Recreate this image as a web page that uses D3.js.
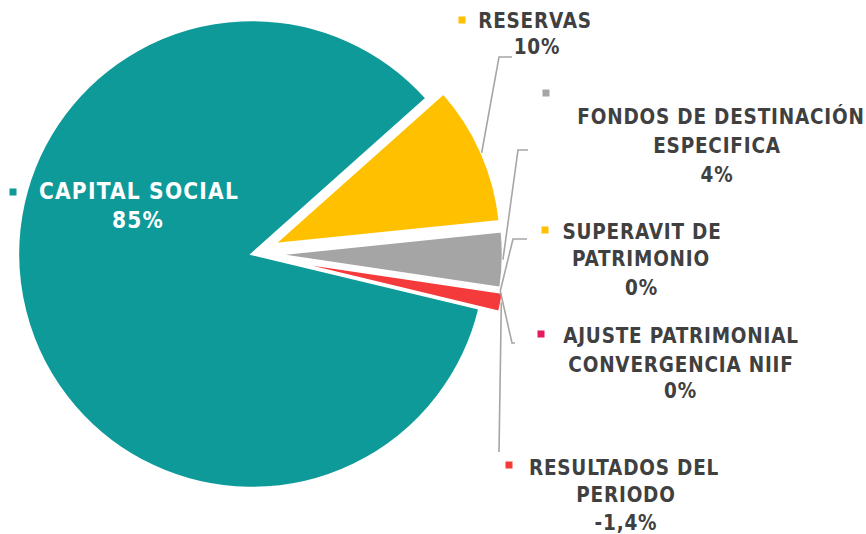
<!DOCTYPE html>
<html>
<head>
<meta charset="utf-8">
<script src="https://cdn.jsdelivr.net/npm/d3@7"></script>
<style>
  html, body { margin: 0; padding: 0; background: #ffffff; }
  svg { display: block; }
</style>
</head>
<body>
<svg id="chart" width="866" height="534"></svg>
<script>
// Composición del patrimonio (valores en %)
const categories = [
  "CAPITAL SOCIAL",
  "RESERVAS",
  "FONDOS DE DESTINACIÓN ESPECIFICA",
  "SUPERAVIT DE PATRIMONIO",
  "AJUSTE PATRIMONIAL CONVERGENCIA NIIF",
  "RESULTADOS DEL PERIODO"
];
const values = [85, 10, 4, 0, 0, -1.4];
// decimals shown in each percentage label
const labelDecimals = [0, 0, 0, 0, 0, 1];
const labelLines = [
  ["CAPITAL SOCIAL"],
  ["RESERVAS"],
  ["FONDOS DE DESTINACIÓN", "ESPECIFICA"],
  ["SUPERAVIT DE", "PATRIMONIO"],
  ["AJUSTE PATRIMONIAL", "CONVERGENCIA NIIF"],
  ["RESULTADOS DEL", "PERIODO"]
];
const colors = ["#0E9A98", "#FFC000", "#A5A5A5", "#FFC000", "#E8185E", "#F43A3A"];

// Layout
const cx = 252, cy = 254;
const radii = [234, 227, 227, 227, 227, 221];
const explode = [0, 24, 24, 24, 24, 33];
const startDeg = 103.5;
const font = "'DejaVu Sans Condensed', 'DejaVu Sans', sans-serif";
const textColor = "#404040";
const leaderColor = "#A6A6A6";

// Label blocks: marker centre, text centre x, baseline of each line
const labelLayout = [
  { marker: [13, 192],  x: [139, 138],          y: [199, 228],       fill: "#ffffff", size: 22.5, spacing: 1.2 },
  { marker: [462, 20],  x: [535, 537],          y: [28, 54],         fill: textColor, size: 20.5, spacing: 0.8 },
  { marker: [546, 93],  x: [721, 717, 717],     y: [124, 153, 182],  fill: textColor, size: 20.5, spacing: 0.8 },
  { marker: [545, 230], x: [642, 641, 641.5],   y: [239, 266, 295],  fill: textColor, size: 20.5, spacing: 0.8 },
  { marker: [541, 334], x: [681, 681, 680.5],   y: [343, 372, 398],  fill: textColor, size: 20.5, spacing: 0.8 },
  { marker: [509, 465], x: [624, 626, 626],     y: [475, 502, 530],  fill: textColor, size: 20.5, spacing: 0.8 }
];
// Leader elbows / ends (null = no leader)
const leaderPath = [
  null,
  [[499, 57], [512, 57]],
  [[518, 150], [528, 150]],
  [[513, 239], [527, 239]],
  [[512, 343], [515, 343]],
  [[499, 452]]
];

const locale = d3.formatLocale({ decimal: ",", thousands: ".", grouping: [3], currency: ["", ""], minus: "-" });
const fmtPct = (v, dec) => locale.format(`.${dec}f`)(v) + "%";

const svg = d3.select("#chart");

const a0 = startDeg * Math.PI / 180;
const pie = d3.pie()
  .sort(null)
  .value(d => Math.abs(d.value))
  .startAngle(a0)
  .endAngle(a0 + 2 * Math.PI);

const data = categories.map((c, i) => ({ name: c, value: values[i], i }));
const arcsData = pie(data);

const g = svg.append("g");

arcsData.forEach(a => {
  const i = a.data.i;
  const mid = (a.startAngle + a.endAngle) / 2;
  a.ox = cx + explode[i] * Math.sin(mid);
  a.oy = cy - explode[i] * Math.cos(mid);
  a.r = radii[i]; a.mid = mid;
  if (a.endAngle - a.startAngle <= 0) return;
  const arc = d3.arc().innerRadius(0).outerRadius(a.r);
  g.append("path")
    .attr("d", arc(a))
    .attr("transform", `translate(${a.ox},${a.oy})`)
    .attr("fill", colors[i])
    .attr("stroke", "#ffffff")
    .attr("stroke-width", 2.5)
    .attr("stroke-linejoin", "miter");
});

// Leader lines
const line = d3.line();
arcsData.forEach(a => {
  const i = a.data.i;
  if (!leaderPath[i]) return;
  const start = [a.ox + a.r * Math.sin(a.mid), a.oy - a.r * Math.cos(a.mid)];
  svg.append("path")
    .attr("d", line([start, ...leaderPath[i]]))
    .attr("fill", "none")
    .attr("stroke", leaderColor)
    .attr("stroke-width", 1.6);
});

// Data labels
arcsData.forEach(a => {
  const i = a.data.i;
  const L = labelLayout[i];
  const lines = [...labelLines[i], fmtPct(values[i], labelDecimals[i])];
  svg.append("rect")
    .attr("x", L.marker[0] - 3.5)
    .attr("y", L.marker[1] - 3.5)
    .attr("width", 7)
    .attr("height", 7)
    .attr("fill", colors[i]);
  lines.forEach((t, k) => {
    svg.append("text")
      .attr("x", L.x[k])
      .attr("y", L.y[k])
      .attr("text-anchor", "middle")
      .attr("font-family", font)
      .attr("font-weight", "bold")
      .attr("font-size", L.size)
      .attr("letter-spacing", L.spacing)
      .attr("fill", L.fill)
      .text(t);
  });
});
</script>
</body>
</html>
